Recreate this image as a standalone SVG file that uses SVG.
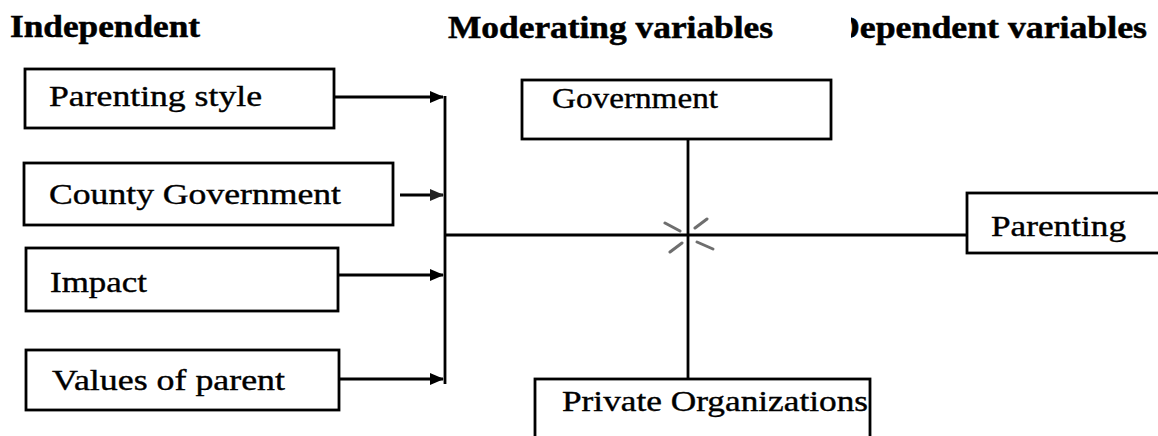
<svg xmlns="http://www.w3.org/2000/svg" width="1158" height="436" viewBox="0 0 1158 436">
  <style>
    .box { fill: #fff; stroke: #000; stroke-width: 2.8; }
    .lbl { font-family: "Liberation Serif", "Times New Roman", serif; font-size: 30px; fill: #000; stroke: #000; stroke-width: 0.4; }
    .hdr { font-family: "Liberation Serif", "Times New Roman", serif; font-size: 31px; font-weight: bold; fill: #000; stroke: #000; stroke-width: 0.5; }
    .ln { stroke: #000; stroke-width: 2.8; fill: none; }
    .star { stroke: #555; stroke-width: 3; stroke-linecap: round; opacity: 0.85; }
  </style>
  <defs>
    <marker id="arr" markerWidth="14" markerHeight="12" refX="13" refY="6" orient="auto" markerUnits="userSpaceOnUse">
      <path d="M0,0 L14,6 L0,12 Z" fill="#000"/>
    </marker>
    <marker id="arrg" markerWidth="14" markerHeight="12" refX="13" refY="6" orient="auto" markerUnits="userSpaceOnUse">
      <path d="M0,0 L14,6 L0,12 Z" fill="#222"/>
    </marker>
    <clipPath id="depclip"><rect x="851" y="0" width="307" height="60"/></clipPath>
  </defs>
  <rect width="1158" height="436" fill="#fff"/>

  <g id="headers">
    <text class="hdr" x="10" y="37" textLength="190" lengthAdjust="spacingAndGlyphs">Independent</text>
    <text class="hdr" x="448" y="38" textLength="325" lengthAdjust="spacingAndGlyphs">Moderating variables</text>
    <g clip-path="url(#depclip)">
      <text class="hdr" x="834" y="38" textLength="313" lengthAdjust="spacingAndGlyphs">Dependent variables</text>
    </g>
  </g>

  <g id="connectors">
    <line class="ln" x1="334" y1="97" x2="443" y2="97" marker-end="url(#arr)"/>
    <line class="ln" x1="400" y1="195" x2="443" y2="195" stroke="#222" marker-end="url(#arrg)"/>
    <line class="ln" x1="338" y1="275" x2="443" y2="275" marker-end="url(#arr)"/>
    <line class="ln" x1="339" y1="379" x2="443" y2="379" marker-end="url(#arr)"/>
    <line class="ln" x1="445" y1="96" x2="445" y2="384"/>
    <line class="ln" x1="445" y1="235" x2="967" y2="235"/>
    <line class="ln" x1="688" y1="139" x2="688" y2="379"/>
    <line class="star" x1="665" y1="223" x2="680" y2="231"/>
    <line class="star" x1="697" y1="242" x2="713" y2="249"/>
    <line class="star" x1="670" y1="252" x2="682" y2="243"/>
    <line class="star" x1="695" y1="228" x2="707" y2="219"/>
  </g>

  <g id="parenting-style">
    <rect class="box" x="25" y="69" width="309" height="59"/>
    <text class="lbl" x="49" y="106" textLength="213" lengthAdjust="spacingAndGlyphs">Parenting style</text>
  </g>
  <g id="county-government">
    <rect class="box" x="24" y="163" width="369" height="62"/>
    <text class="lbl" x="49" y="204" textLength="292" lengthAdjust="spacingAndGlyphs">County Government</text>
  </g>
  <g id="impact">
    <rect class="box" x="26" y="248" width="312" height="63"/>
    <text class="lbl" x="50" y="292" textLength="97" lengthAdjust="spacingAndGlyphs">Impact</text>
  </g>
  <g id="values-of-parent">
    <rect class="box" x="26" y="350" width="313" height="60"/>
    <text class="lbl" x="52" y="390" textLength="233" lengthAdjust="spacingAndGlyphs">Values of parent</text>
  </g>
  <g id="government">
    <rect class="box" x="522" y="80" width="309" height="59"/>
    <text class="lbl" x="552" y="108" textLength="166" lengthAdjust="spacingAndGlyphs">Government</text>
  </g>
  <g id="private-organizations">
    <rect class="box" x="535" y="379" width="335" height="80"/>
    <text class="lbl" x="562" y="411" textLength="306" lengthAdjust="spacingAndGlyphs">Private Organizations</text>
  </g>
  <g id="parenting">
    <rect class="box" x="967" y="193" width="220" height="60"/>
    <text class="lbl" x="991" y="236" textLength="135" lengthAdjust="spacingAndGlyphs">Parenting</text>
  </g>
</svg>
